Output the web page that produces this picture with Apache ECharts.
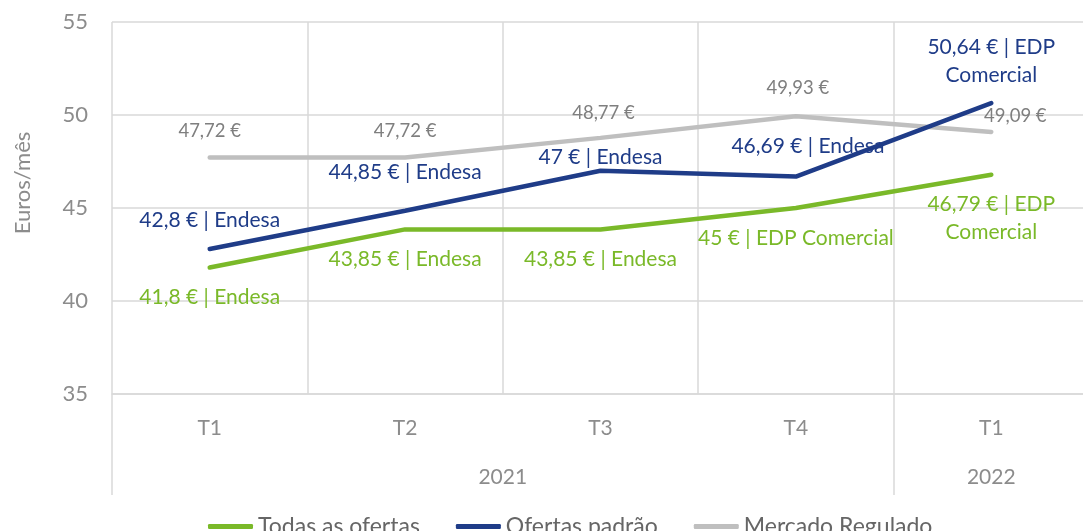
<!DOCTYPE html>
<html>
<head>
<meta charset="utf-8">
<script src="https://cdn.jsdelivr.net/npm/echarts@6/dist/echarts.min.js"></script>
<style>
  html, body { margin: 0; padding: 0; background: #fff; }
  #chart { width: 1083px; height: 531px; }
</style>
</head>
<body>
<div id="chart"></div>
<script>
// dados
const categories = ['T1', 'T2', 'T3', 'T4', 'T1']
const years = ['2021', '2022']
const todasOfertas = [41.8, 43.85, 43.85, 45, 46.79]
const todasEmpresa = ['Endesa', 'Endesa', 'Endesa', 'EDP Comercial', 'EDP Comercial']
const ofertasPadrao = [42.8, 44.85, 47, 46.69, 50.64]
const padraoEmpresa = ['Endesa', 'Endesa', 'Endesa', 'Endesa', 'EDP Comercial']
const mercadoRegulado = [47.72, 47.72, 48.77, 49.93, 49.09]

// posição das etiquetas (px relativo ao ponto)
const greenOff = [[0, 30], [0, 30], [0, 30], [0, 30], [0, 44]]
const blueOff = [[0, -29], [0, -39], [0, -14], [12, -30], [0, -42]]
const grayOff = [[0, -26], [0, -26], [3, -25], [2, -28], [24, -16]]

const FONT = 'Lato'
const GRID_COLOR = '#d9d9d9'

function euro(v) {
  return String(v).replace('.', ',') + ' €'
}

function items(values, offsets) {
  return values.map((v, i) => ({
    value: v,
    label: { offset: offsets[i] },
  }))
}

function labelText(empresas) {
  return function (p) {
    const txt = euro(p.value) + ' | ' + empresas[p.dataIndex]
    return p.dataIndex === 4 ? txt.replace(' Comercial', '\nComercial') : txt
  }
}

const chart = echarts.init(document.getElementById('chart'))
chart.setOption({
  animation: false,
  textStyle: { fontFamily: FONT },
  grid: {
    left: 112,
    top: 22,
    width: 977,
    height: 372,
    outerBoundsMode: 'none',
  },
  legend: {
    left: 203,
    top: 510,
    icon: 'roundRect',
    itemWidth: 45,
    itemHeight: 5,
    itemGap: 36,
    textStyle: { color: '#666', fontSize: 23, fontFamily: FONT },
    data: ['Todas as ofertas', 'Ofertas padrão', 'Mercado Regulado'],
  },
  xAxis: [
    {
      type: 'category',
      data: categories,
      axisLine: { show: true, lineStyle: { color: GRID_COLOR, width: 1.5 } },
      axisTick: {
        show: true,
        interval: (i) => i === 0 || i === 4,
        length: 101,
        lineStyle: { color: GRID_COLOR, width: 1.5 },
      },
      axisLabel: { interval: 0, color: '#8c8c8c', fontSize: 21, margin: 24 },
      splitLine: { show: true, interval: 0, lineStyle: { color: GRID_COLOR, width: 1.5 } },
    },
    {
      type: 'value',
      min: 0,
      max: 5,
      interval: 0.5,
      position: 'bottom',
      offset: 49,
      axisLine: { show: false },
      axisTick: { show: false },
      splitLine: { show: false },
      axisLabel: {
        color: '#8c8c8c',
        fontSize: 21,
        margin: 24,
        formatter: (v) => (v === 2 ? years[0] : v === 4.5 ? years[1] : ''),
      },
    },
  ],
  yAxis: {
    type: 'value',
    min: 35,
    max: 55,
    interval: 5,
    name: 'Euros/mês',
    nameLocation: 'middle',
    nameGap: 78,
    nameTextStyle: { color: '#8c8c8c', fontSize: 22, padding: [0, 0, 0, 50] },
    axisLine: { show: false },
    axisTick: { show: false },
    axisLabel: { color: '#8c8c8c', fontSize: 22, margin: 24 },
    splitLine: { lineStyle: { color: GRID_COLOR, width: 1.5 } },
  },
  series: [
    {
      name: 'Todas as ofertas',
      type: 'line',
      data: items(todasOfertas, greenOff),
      symbol: 'circle',
      symbolSize: 0.1,
      itemStyle: { color: '#7ab929' },
      lineStyle: { width: 4.5, cap: 'round' },
      label: {
        show: true,
        position: 'inside',
        color: '#7ab929',
        fontSize: 21,
        lineHeight: 28,
        formatter: labelText(todasEmpresa),
      },
      z: 3,
    },
    {
      name: 'Ofertas padrão',
      type: 'line',
      data: items(ofertasPadrao, blueOff),
      symbol: 'circle',
      symbolSize: 0.1,
      itemStyle: { color: '#1f3c88' },
      lineStyle: { width: 4.5, cap: 'round' },
      label: {
        show: true,
        position: 'inside',
        color: '#1f3c88',
        fontSize: 21,
        lineHeight: 28,
        formatter: labelText(padraoEmpresa),
      },
      z: 4,
    },
    {
      name: 'Mercado Regulado',
      type: 'line',
      data: items(mercadoRegulado, grayOff),
      symbol: 'circle',
      symbolSize: 0.1,
      itemStyle: { color: '#bfbfbf' },
      lineStyle: { width: 4.5, cap: 'round' },
      label: {
        show: true,
        position: 'inside',
        color: '#7f7f7f',
        fontSize: 18.5,
        formatter: (p) => euro(p.value),
      },
      z: 2,
    },
  ],
})
</script>
</body>
</html>
